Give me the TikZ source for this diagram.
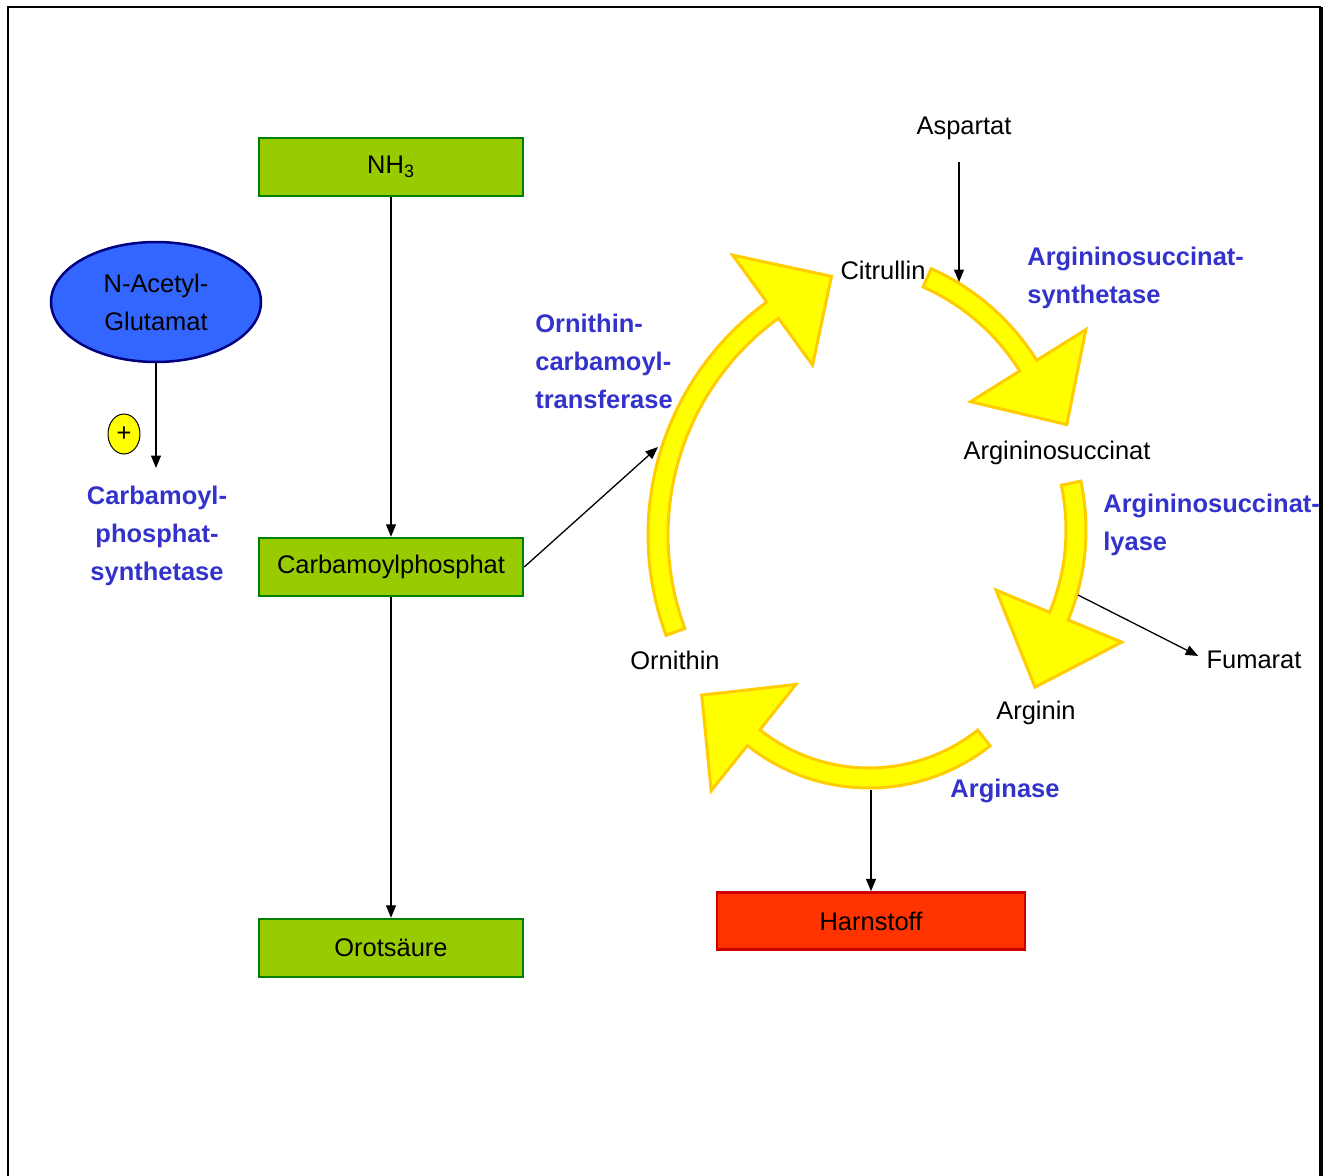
\documentclass[tikz,border=0pt]{standalone}
\usepackage{fontspec}
\setmainfont{Liberation Sans}
\usetikzlibrary{arrows.meta,shapes.geometric}

\definecolor{boxgreen}{HTML}{99CC00}
\definecolor{boxborder}{HTML}{008000}
\definecolor{enzblue}{HTML}{3333CC}
\definecolor{nagblue}{HTML}{3366FF}
\definecolor{nagborder}{HTML}{000080}
\definecolor{ureared}{HTML}{FF3300}
\definecolor{ureaborder}{HTML}{CC0000}
\definecolor{cycleyellow}{HTML}{FFFF00}
\definecolor{cycleborder}{HTML}{FFCC00}

\newcommand{\cyclearrow}[7]{%
  \draw[cyclearr] plot[domain=#4:#5,samples=40] ({#1+(#3+10)*cos(\x)},{#2+(#3+10)*sin(\x)})
    -- ({#1+(#3+68)*cos(#5)},{#2+(#3+68)*sin(#5)})
    -- ({#1+#7*cos(#6)},{#2+#7*sin(#6)})
    -- ({#1+(#3-68)*cos(#5)},{#2+(#3-68)*sin(#5)})
    -- plot[domain=#5:#4,samples=40] ({#1+(#3-10)*cos(\x)},{#2+(#3-10)*sin(\x)}) -- cycle;}

\begin{document}
\begin{tikzpicture}[x=0.02cm,y=-0.02cm,
    font=\fontsize{14.5}{21.6}\selectfont,
    gbox/.style={draw=boxborder,fill=boxgreen,line width=0.05cm,minimum width=5.28cm,minimum height=1.16cm,inner sep=0pt},
    enz/.style={text=enzblue,font=\fontsize{14.5}{21.6}\selectfont\bfseries,inner sep=0pt},
    lbl/.style={inner sep=0pt},
    conn/.style={line width=0.026cm,-{Triangle[length=0.25cm,width=0.2cm]}},
    cyclearr/.style={fill=cycleyellow,draw=cycleborder,line width=0.06cm,line join=miter}]
    \useasboundingbox (0,0) rectangle (1330,1176);
    \draw[line width=0.045cm] (8,1176) -- (8,7) -- (1321,7);
    \draw[line width=0.08cm] (1320.5,7) -- (1320.5,1176);

    \cyclearrow{936}{535}{278}{159.6}{234}{248}{279}
    \cyclearrow{834}{487}{229}{-66}{-32}{-15}{241}
    \cyclearrow{851}{530}{225}{-12}{22.5}{40.5}{242}
    \cyclearrow{869}{593}{185}{51.6}{128.6}{148.6}{196}

    \node[gbox] (nh3) at (391,167) {NH\textsubscript{3}};
    \node[gbox] (cp) at (391,567) {Carbamoylphosphat};
    \node[gbox] (oro) at (391,948) {Orotsäure};
    \node[draw=ureaborder,fill=ureared,line width=0.05cm,minimum width=6.16cm,minimum height=1.14cm,inner sep=0pt] (harn) at (871,921) {Harnstoff};
    \node[ellipse,draw=nagborder,fill=nagblue,line width=0.05cm,minimum width=4.2cm,minimum height=2.4cm,inner sep=0pt,align=center] (nag) at (156,302) {N-Acetyl-\\Glutamat};
    \node[ellipse,draw,fill=cycleyellow,line width=0.02cm,minimum width=0.64cm,minimum height=0.8cm,inner sep=0pt] (plus) at (124,434) {+};
    \node[enz,align=center] (cps) at (157,536) {Carbamoyl-\\phosphat-\\synthetase};

    \node[lbl] (asp) at (964,128) {Aspartat};
    \node[lbl] (cit) at (883,270) {Citrullin};
    \node[lbl] (asu) at (1057,453) {Argininosuccinat};
    \node[lbl] (fum) at (1254,660) {Fumarat};
    \node[lbl] (arg) at (1036,713) {Arginin};
    \node[lbl] (orn) at (675,660) {Ornithin};

    \node[enz,anchor=west,align=left] (ass) at (1027,278) {Argininosuccinat-\\synthetase};
    \node[enz,anchor=west,align=left] (otc) at (535,361) {Ornithin-\\carbamoyl-\\transferase};
    \node[enz,anchor=west,align=left] (asl) at (1103,525) {Argininosuccinat-\\lyase};
    \node[enz] (ase) at (1005,791) {Arginase};

    \coordinate (cpsin) at (156,468);
    \coordinate (otcin) at (658,447);
    \coordinate (aspin) at (959,282);
    \coordinate (fumout) at (1078,595);
    \coordinate (harnout) at (871,790);

    \draw[conn] (nag.south) -- (cpsin);
    \draw[conn] (nh3) -- (cp);
    \draw[conn] (cp) -- (oro);
    \draw[conn] (cp.east) -- (otcin);
    \draw[conn,shorten <=0.44cm] (aspin |- asp.south) -- (aspin);
    \draw[conn,shorten >=0.18cm] (fumout) -- (fum.west);
    \draw[conn] (harnout) -- (harn.north);
\end{tikzpicture}
\end{document}
